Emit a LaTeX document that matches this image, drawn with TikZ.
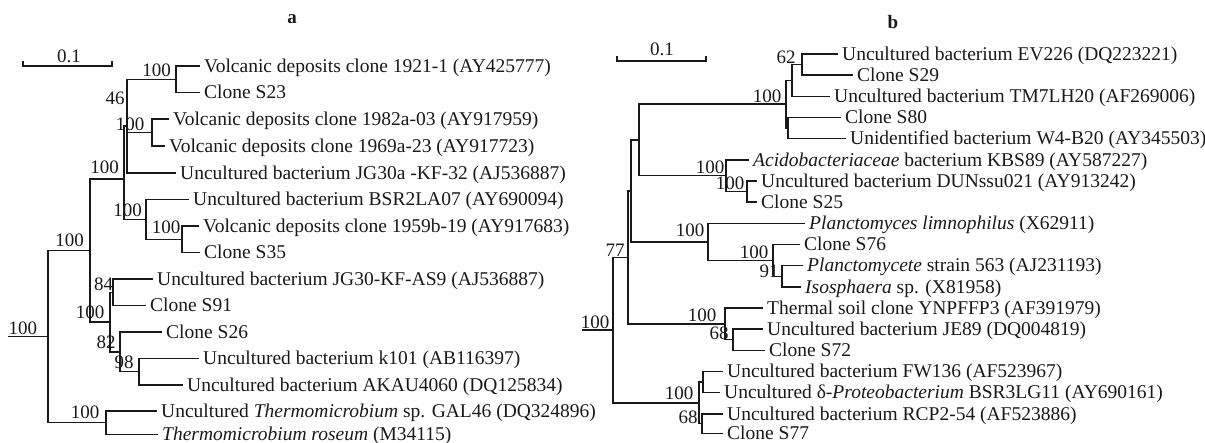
\documentclass[tikz,border=0pt]{standalone}
\usepackage{fontspec}
\setmainfont{Liberation Serif}
\newcommand{\leaffont}{\fontsize{19.5}{21}\selectfont}
\newcommand{\bsfont}{\fontsize{19}{21}\selectfont}
\tikzset{
  br/.style={line width=1.4pt, draw=black!90, line join=miter},
  leaf/.style={anchor=west, inner xsep=4pt, inner ysep=0pt, text height=14pt, text depth=1.4pt, font=\leaffont, text=black!90},
  bs/.style={inner sep=0pt, text height=13.3pt, text depth=0.5pt, font=\bsfont, text=black!90},
  ttl/.style={inner sep=0pt, font=\bsfont\bfseries, text=black!90},
}
\begin{document}
\begin{tikzpicture}[x=1pt,y=-1pt]
\useasboundingbox (0,0) rectangle (1205,443);
% titles
\node[ttl] (ta) at (292,19) {a};
\node[ttl] (tb) at (893,22) {b};
% scale bars
\coordinate (sa1) at (23,66); \coordinate (sa2) at (112,66);
\draw[br] ([yshift=5pt]sa1) -- (sa1) -- (sa2) -- ([yshift=5pt]sa2);
\node[bs] (sal) at (69,56) {0.1};
\coordinate (sb1) at (617,61); \coordinate (sb2) at (706,61);
\draw[br] ([yshift=5pt]sb1) -- (sb1) -- (sb2) -- ([yshift=5pt]sb2);
\node[bs] (sbl) at (662,49) {0.1};

% ================= tree a =================
\node[leaf] (L1) at (200,66) {Volcanic deposits clone 1921-1 (AY425777)};
\node[leaf] (L2) at (200,92.5) {Clone S23};
\node[leaf] (L3) at (169,119) {Volcanic deposits clone 1982a-03 (AY917959)};
\node[leaf] (L4) at (165,146) {Volcanic deposits clone 1969a-23 (AY917723)};
\node[leaf] (L5) at (176,173) {Uncultured bacterium JG30a -KF-32 (AJ536887)};
\node[leaf] (L6) at (189,199.5) {Uncultured bacterium BSR2LA07 (AY690094)};
\node[leaf] (L7) at (199,226) {Volcanic deposits clone 1959b-19 (AY917683)};
\node[leaf] (L8) at (200,252.5) {Clone S35};
\node[leaf] (L9) at (153,279) {Uncultured bacterium JG30-KF-AS9 (AJ536887)};
\node[leaf] (L10) at (146,305.5) {Clone S91};
\node[leaf] (L11) at (162,332) {Clone S26};
\node[leaf] (L12) at (199,358.5) {Uncultured bacterium k101 (AB116397)};
\node[leaf] (L13) at (183,385) {Uncultured bacterium AKAU4060 (DQ125834)};
\node[leaf] (L14) at (157,411) {Uncultured \textit{Thermomicrobium} sp. GAL46 (DQ324896)};
\node[leaf] (L15) at (158,434.5) {\textit{Thermomicrobium roseum} (M34115)};

\coordinate (nA) at (176,79.25);
\coordinate (nB) at (152,132.5);
\coordinate (n127) at (127,126);
\coordinate (n182) at (182,239.25);
\coordinate (n146) at (146,219.4);
\coordinate (n124) at (124,179);
\coordinate (n113) at (113,292.25);
\coordinate (n139) at (139,371.75);
\coordinate (n120) at (120,351.9);
\coordinate (n110) at (110,322);
\coordinate (n90) at (90,250.5);
\coordinate (nT) at (106,422.75);
\coordinate (rootA) at (48,336.6);
\coordinate (startA) at (8,336.6);

\draw[br] (nA) |- (L1.west); \draw[br] (nA) |- (L2.west);
\draw[br] (nB) |- (L3.west); \draw[br] (nB) |- (L4.west);
\draw[br] (n127) |- (nA); \draw[br] (n127) |- (nB); \draw[br] (n127) |- (L5.west);
\draw[br, line width=2.6pt] ([yshift=22pt]n127) -- ([yshift=13pt]n127);
\draw[br] (n182) |- (L7.west); \draw[br] (n182) |- (L8.west);
\draw[br] (n146) |- (L6.west); \draw[br] (n146) |- (n182);
\draw[br] (n124) |- (n127); \draw[br] (n124) |- (n146);
\draw[br] (n113) |- (L9.west); \draw[br] (n113) |- (L10.west);
\draw[br] (n139) |- (L12.west); \draw[br] (n139) |- (L13.west);
\draw[br] (n120) |- (L11.west); \draw[br] (n120) |- (n139);
\draw[br] (n110) |- (n113); \draw[br] (n110) |- (n120);
\draw[br] (n90) |- (n124); \draw[br] (n90) |- (n110);
\draw[br] (nT) |- (L14.west); \draw[br] (nT) |- (L15.west);
\draw[br] (rootA) |- (n90); \draw[br] (rootA) |- (nT);
\draw[br] (startA) -- (rootA);

\node[bs] (bA) at (156.5,70) {100};
\node[bs] (b46) at (115,98) {46};
\node[bs] (bB) at (130,124) {100};
\node[bs] (b124) at (104.5,167) {100};
\node[bs] (b146) at (127.5,210) {100};
\node[bs] (b182) at (166,227) {100};
\node[bs] (b90) at (69.5,240) {100};
\node[bs] (b84) at (103.5,284) {84};
\node[bs] (b110) at (90,312) {100};
\node[bs] (b82) at (106,342) {82};
\node[bs] (b98) at (124,362) {98};
\node[bs] (bT) at (85,412) {100};
\node[bs] (bRA) at (23,328) {100};

% ================= tree b =================
\node[leaf] (R1) at (838,54) {Uncultured bacterium EV226 (DQ223221)};
\node[leaf] (R2) at (853,75.2) {Clone S29};
\node[leaf] (R3) at (830,96.3) {Uncultured bacterium TM7LH20 (AF269006)};
\node[leaf] (R4) at (841,117.5) {Clone S80};
\node[leaf] (R5) at (846,138.7) {Unidentified bacterium W4-B20 (AY345503)};
\node[leaf] (R6) at (749,159.9) {\textit{Acidobacteriaceae} bacterium KBS89 (AY587227)};
\node[leaf] (R7) at (757,181) {Uncultured bacterium DUNssu021 (AY913242)};
\node[leaf] (R8) at (757,202.2) {Clone S25};
\node[leaf] (R9) at (805,223.4) {\textit{Planctomyces limnophilus} (X62911)};
\node[leaf] (R10) at (800,244.5) {Clone S76};
\node[leaf] (R11) at (803,265.7) {\textit{Planctomycete} strain 563 (AJ231193)};
\node[leaf] (R12) at (801,286.9) {\textit{Isosphaera} sp. (X81958)};
\node[leaf] (R13) at (763,308) {Thermal soil clone YNPFFP3 (AF391979)};
\node[leaf] (R14) at (763,329.2) {Uncultured bacterium JE89 (DQ004819)};
\node[leaf] (R15) at (765,350.4) {Clone S72};
\node[leaf] (R16) at (723,371.6) {Uncultured bacterium FW136 (AF523967)};
\node[leaf] (R17) at (720,392.7) {Uncultured δ-\textit{Proteobacterium} BSR3LG11 (AY690161)};
\node[leaf] (R18) at (723,413.9) {Uncultured bacterium RCP2-54 (AF523886)};
\node[leaf] (R19) at (723,433.5) {Clone S77};

\coordinate (m62) at (802,64.6);
\coordinate (m792) at (792,80.3);
\coordinate (m788) at (788,128.1);
\coordinate (m786) at (786,104.2);
\coordinate (m747) at (747,191.6);
\coordinate (m726) at (726,175.7);
\coordinate (m639) at (639,140);
\coordinate (m782) at (782,276.3);
\coordinate (m773) at (773,260.4);
\coordinate (m708) at (708,241.9);
\coordinate (m631) at (631,191);
\coordinate (m733) at (733,339.8);
\coordinate (m725) at (725,323.9);
\coordinate (m628) at (628,257.4);
\coordinate (m703) at (703,382.2);
\coordinate (m702) at (702,423.7);
\coordinate (m699) at (699,403);
\coordinate (rootB) at (613,330.2);
\coordinate (startB) at (582,330.2);

\draw[br] (m62) |- (R1.west); \draw[br] (m62) |- (R2.west);
\draw[br] (m792) |- (m62); \draw[br] (m792) |- (R3.west);
\draw[br] (m788) |- (R4.west); \draw[br] (m788) |- (R5.west);
\draw[br] (m786) |- (m792); \draw[br] (m786) |- (m788);
\draw[br] (m747) |- (R7.west); \draw[br] (m747) |- (R8.west);
\draw[br] (m726) |- (R6.west); \draw[br] (m726) |- (m747);
\draw[br] (m639) |- (m786); \draw[br] (m639) |- (m726);
\draw[br] (m782) |- (R11.west); \draw[br] (m782) |- (R12.west);
\draw[br] (m773) |- (R10.west); \draw[br] (m773) |- (m782);
\draw[br] (m708) |- (R9.west); \draw[br] (m708) |- (m773);
\draw[br] (m631) |- (m639); \draw[br] (m631) |- (m708);
\draw[br] (m733) |- (R14.west); \draw[br] (m733) |- (R15.west);
\draw[br] (m725) |- (R13.west); \draw[br] (m725) |- (m733);
\draw[br] (m628) |- (m631); \draw[br] (m628) |- (m725);
\draw[br] (m703) |- (R16.west); \draw[br] (m703) |- (R17.west);
\draw[br] (m702) |- (R18.west); \draw[br] (m702) |- (R19.west);
\draw[br] (m699) |- (m703); \draw[br] (m699) |- (m702);
\draw[br] (rootB) |- (m628); \draw[br] (rootB) |- (m699);
\draw[br] (startB) -- (rootB);

\node[bs] (c62) at (786,57) {62};
\node[bs] (c786) at (767,96) {100};
\node[bs] (c726) at (710,167) {100};
\node[bs] (c747) at (730,183) {100};
\node[bs] (c708) at (690,230) {100};
\node[bs] (c773) at (754,252) {100};
\node[bs] (c782) at (769,271) {91};
\node[bs] (c628) at (615,250) {77};
\node[bs] (cR) at (595,322) {100};
\node[bs] (c725) at (702,315) {100};
\node[bs] (c733) at (719,333) {68};
\node[bs] (c699) at (679,393) {100};
\node[bs] (c702) at (688,417) {68};
\end{tikzpicture}
\end{document}
